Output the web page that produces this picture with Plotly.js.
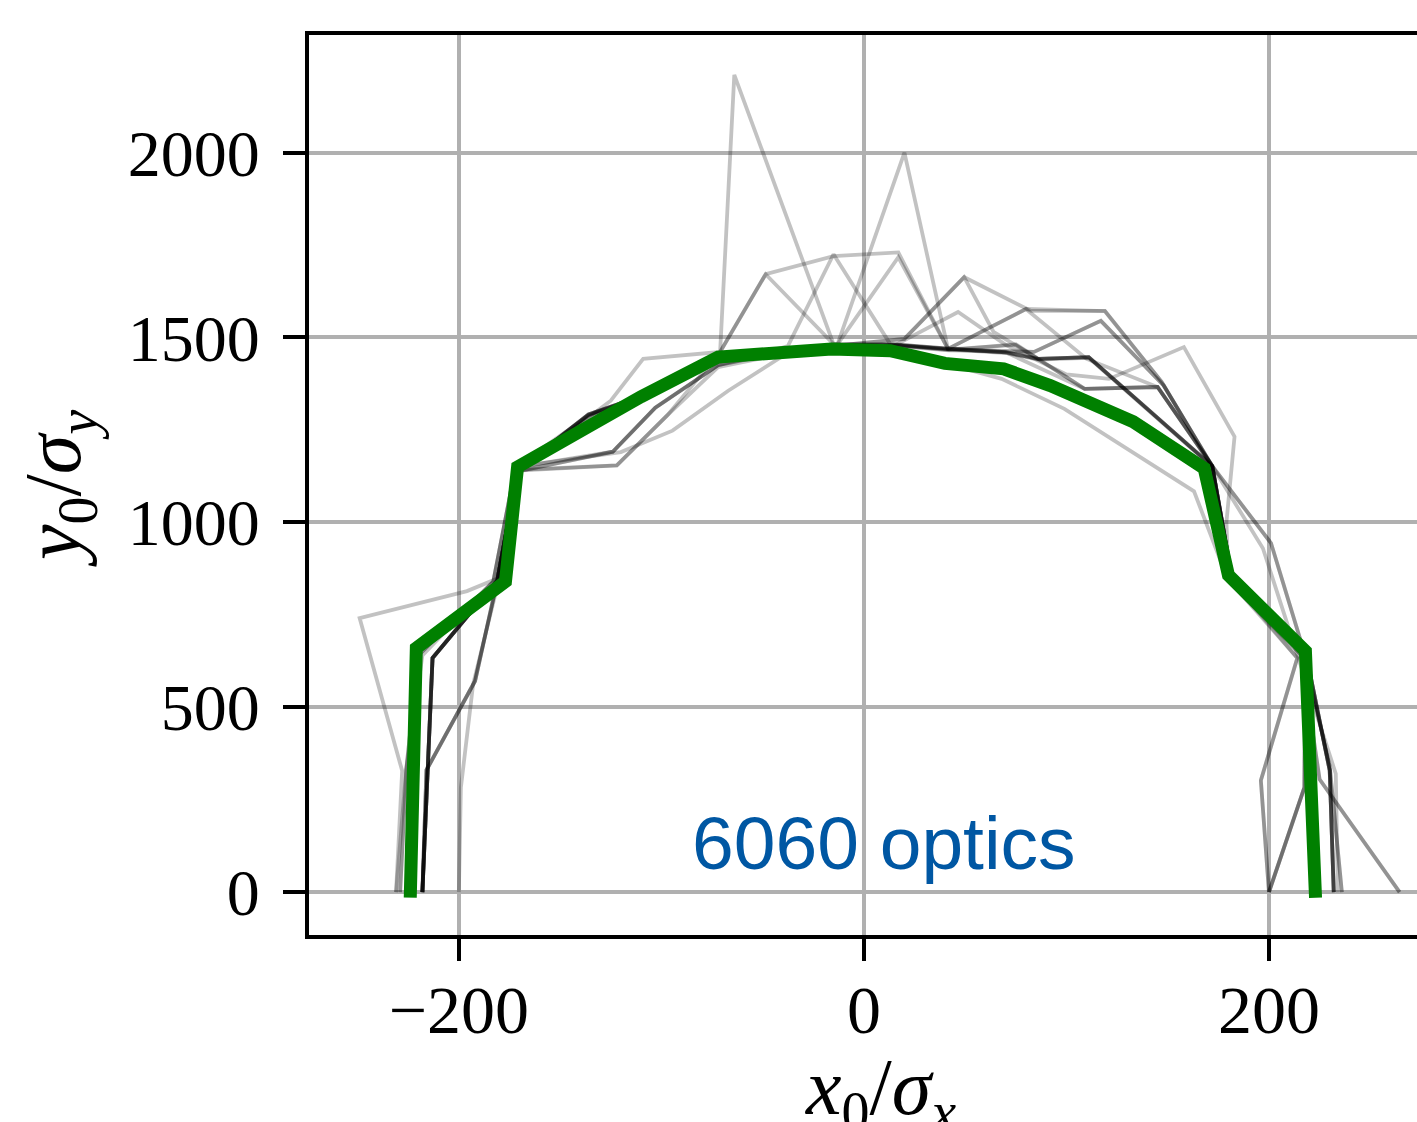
<!DOCTYPE html>
<html>
<head>
<meta charset="utf-8">
<script src="https://cdn.plot.ly/plotly-3.0.1.min.js"></script>
<style>
  html, body { margin: 0; padding: 0; background: #ffffff; }
  #chart { width: 1417px; height: 1122px; }
</style>
</head>
<body>
<div id="chart"></div>
<script>
// ---- Data ----
// Mean aperture contour (green)
const greenX = [-224, -221, -177, -171, -135, -110, -72, -41, -16, 13, 40, 69, 92, 133, 168, 180, 218, 223];
const greenY = [-15, 660, 840, 1150, 1262, 1340, 1447, 1464, 1469, 1464, 1430, 1415, 1370, 1272, 1146, 857, 652, -15];

// Individual seeds (thin translucent black lines)
const seedX = [
  [-218,-213,-181,-171,-136,-108,-72,-40,-14,14,42,70,86,111,172,182,218,230,232],
  [-218,-213,-181,-171,-136,-108,-72,-40,-14,14,42,75,109,145,172,182,218,217.5,200],
  [-218,-216,-192,-181,-171,-124,-103,-72,-37.5,-15,13,42,70,86,111,172,182,218,230,232],
  [-218,-216,-192,-181,-171,-125,-109,-71,-64,-15,13,42,75,109,145,172,182,218,217.5,200],
  [-218,-213,-181,-171,-122,-97,-71,-48.5,-15,17,41.5,70,84,117,148,172,182,218,230,232],
  [-218,-213,-181,-171,-136,-108,-71,-48.5,-15,13,41.5,80,119,147,172,182,218,217.5,200],
  [-231,-228,-249,-196,-181,-169,-136,-108,-72,-40,-13,17,41.5,70,109,145,172,201,216,230,236],
  [-229,-226,-220,-183,-172,-135,-108,-72,-40,-13,20,41.5,70,86,111,172,182,214,196,200],
  [-200,-199,-193,-180,-170,-124,-103,-72,-40,-14,20,49.5,64,86,111,172,182,218,230,232],
  [-218,-213,-181,-171,-136,-108,-72,-40,-14,20,49.5,82.5,119,147,171.5,182,216,225,264.5],
  [-218,-216,-192,-181,-171,-124,-103,-72,-40,-14,14,41.5,80,110,145,172,197,214,233,234],
  [-218,-213,-181,-171,-122,-97,-72,-40,-14,14,42,84,117,148,172,182,218,230,232],
  [-229,-226,-220,-183,-172,-136,-108,-72,-40,-14,14,46.5,70,100,121,158,183,179,180,214,196,200],
  [-231,-226,-218,-183,-172,-120,-94.5,-67,-40,-14,14,40,68,99,163,180,216,225,264.5],
  [-218,-213,-181,-171,-136,-108,-72,-40,-14,14,42,70,86,111,172,201,216,230,236]
];
const seedY = [
  [0,633,843,1142,1292,1345,1436,1462,1480,1482,1470,1460,1442,1447,1152,840,652,329,0],
  [0,633,843,1140,1290,1343,1434,1460,1478,1480,1466,1482,1361,1366,1154,845,652,283,0],
  [0,330,571,843,1138,1191,1310,1425,1477,1725,1482,1468,1458,1440,1445,1150,842,652,329,0],
  [0,330,571,843,1140,1329,1442,1461,2210,1482,1480,1468,1480,1361,1366,1152,843,652,283,0],
  [0,633,843,1140,1154,1290,1461,1671,1720,1730,1469,1462,1461,1545,1370,1152,840,652,329,0],
  [0,633,843,1142,1290,1345,1461,1671,1482,1480,1469,1577,1571,1380,1152,843,652,283,0],
  [0,328,741,814,848,1150,1292,1345,1436,1462,1482,1717,1469,1460,1361,1366,1152,944,674,340,0],
  [0,330,640,840,1150,1285,1345,1436,1462,1482,2000,1469,1460,1442,1447,1152,840,633,302,0],
  [0,283,561,850,1150,1191,1310,1425,1462,1478,1496,1663,1515,1442,1447,1152,840,652,329,0],
  [0,633,843,1140,1292,1345,1436,1462,1478,1496,1663,1572,1572,1380,1154,840,640,305,0],
  [0,330,571,843,1138,1191,1310,1425,1460,1478,1480,1469,1577,1442,1366,1152,930,640,320,0],
  [0,633,843,1142,1154,1290,1420,1455,1476,1478,1465,1461,1545,1370,1152,840,652,329,0],
  [0,330,640,840,1150,1288,1345,1436,1462,1470,1475,1569,1480,1400,1388,1474,1232,1000,845,633,302,0],
  [0,330,640,840,1150,1190,1248,1356,1450,1470,1470,1430,1388,1307,1084,840,640,305,0],
  [0,633,843,1142,1292,1345,1436,1462,1480,1482,1470,1460,1442,1447,1152,944,674,340,0]
];

const xTicks = [-200, 0, 200];
const xTickText = ['\u2212200', '0', '200'];
const yTicks = [0, 500, 1000, 1500, 2000];
const yTickText = ['0', '500', '1000', '1500', '2000'];
const labelText = '6060 optics';
const xTitleText = '<i>x</i><sub>0</sub>/<i>\u03c3</i><sub><i>x</i></sub>';
const yTitleText = '<i>y</i><sub>0</sub>/<i>\u03c3</i><sub><i>y</i></sub>';

// ---- Build traces ----
const traces = [];
for (let i = 0; i < seedX.length; i++) {
  traces.push({
    x: seedX[i], y: seedY[i], type: 'scatter', mode: 'lines',
    line: { color: 'rgba(0,0,0,0.24)', width: 3.8 },
    hoverinfo: 'skip'
  });
}
traces.push({
  x: greenX, y: greenY, type: 'scatter', mode: 'lines',
  line: { color: '#008000', width: 13 },
  hoverinfo: 'skip'
});

const serif = 'Liberation Serif, DejaVu Serif, serif';
const axisCommon = {
  ticks: 'outside', ticklen: 22, tickwidth: 4, tickcolor: '#000',
  showline: true, linecolor: '#000', linewidth: 4,
  showgrid: true, gridcolor: '#b0b0b0', gridwidth: 4,
  zeroline: false, tickmode: 'array',
  automargin: false
};

const layout = {
  width: 1417, height: 1122,
  margin: { l: 309, r: 0, t: 35, b: 187, pad: 0 },
  paper_bgcolor: '#ffffff', plot_bgcolor: '#ffffff',
  showlegend: false,
  xaxis: Object.assign({}, axisCommon, {
    range: [-274.0, 273.1],
    tickvals: xTicks, ticktext: xTickText,
    tickfont: { family: serif, size: 68, color: '#000' },
    mirror: true,
    ticklabelstandoff: -10
  }),
  yaxis: Object.assign({}, axisCommon, {
    range: [-116, 2318],
    tickvals: yTicks, ticktext: yTickText,
    tickfont: { family: serif, size: 66, color: '#000' },
    mirror: false,
    ticklabelstandoff: 10,
    title: { text: yTitleText,
             font: { family: serif, size: 80, color: '#000' }, standoff: 22 }
  }),
  annotations: [{
    text: labelText, xref: 'x', yref: 'y', x: -86, y: 134,
    xanchor: 'left', yanchor: 'middle', showarrow: false,
    font: { family: 'Liberation Sans, Arial, sans-serif', size: 75, color: '#0057a3' }
  }, {
    text: xTitleText, xref: 'x', yref: 'paper', x: 8, y: -0.118,
    xanchor: 'center', yanchor: 'top', showarrow: false,
    font: { family: serif, size: 80, color: '#000' }
  }]
};

Plotly.newPlot('chart', traces, layout, { staticPlot: true, displayModeBar: false });
</script>
</body>
</html>
